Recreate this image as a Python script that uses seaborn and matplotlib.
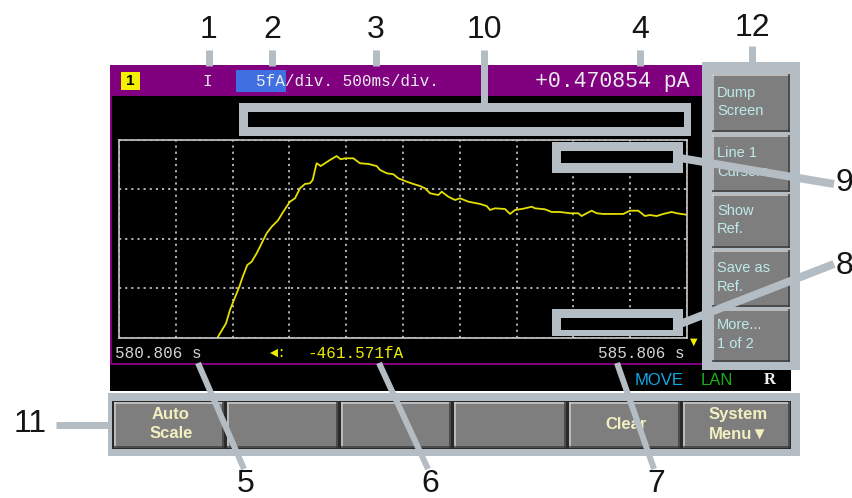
import matplotlib
matplotlib.use('Agg')
import numpy as np
import matplotlib.pyplot as plt
from matplotlib.patches import Rectangle
import seaborn as sns

# trace: time (s) and current (fA, relative to screen centre)
time_s = [581.660, 581.671, 581.748, 581.783, 581.818, 581.865, 581.895, 581.935,
          581.974, 582.018, 582.062, 582.106, 582.150, 582.208, 582.252, 582.311,
          582.355, 582.399, 582.443, 582.487, 582.511, 582.531, 582.546, 582.582,
          582.619, 582.663, 582.722, 582.758, 582.795, 582.869, 582.927, 583.001,
          583.074, 583.104, 583.163, 583.221, 583.265, 583.339, 583.397, 583.456,
          583.500, 583.544, 583.617, 583.647, 583.705, 583.764, 583.808, 583.881,
          583.984, 584.043, 584.072, 584.116, 584.204, 584.248, 584.292, 584.365,
          584.439, 584.468, 584.556, 584.615, 584.688, 584.776, 584.849, 584.879,
          584.923, 584.967, 585.011, 585.069, 585.245, 585.304, 585.377, 585.436,
          585.480, 585.539, 585.597, 585.671, 585.715, 585.803]
current_fa = [-10.4, -10.0, -8.52, -7.17, -6.16, -4.82, -3.81, -2.63,
              -2.29, -1.44, -0.43, 0.58, 1.24, 1.92, 2.76, 3.77,
              4.11, 5.12, 5.56, 5.63, 5.96, 6.97, 7.65, 7.37,
              7.65, 7.98, 8.38, 8.05, 8.15, 8.15, 7.65, 7.58,
              7.37, 6.97, 6.64, 6.54, 6.13, 5.79, 5.56, 5.35,
              5.12, 4.62, 4.44, 4.78, 4.27, 3.94, 4.11, 3.77,
              3.54, 3.33, 2.93, 3.10, 3.03, 2.53, 2.93, 3.06,
              3.26, 3.10, 3.00, 2.73, 2.73, 2.60, 2.60, 2.32,
              2.60, 2.86, 2.60, 2.53, 2.53, 2.86, 2.86, 2.32,
              2.42, 2.32, 2.53, 2.73, 2.60, 2.45]

t_start, t_end = 580.806, 585.806   # 500 ms/div, 10 div
curr_range = 10                      # 5 fA/div, 4 div
header_text = '5fA/div. 500ms/div.'
reading = '+0.470854 pA'
cursor_reading = '-461.571fA'
side_keys = ['Dump\nScreen', 'Line 1\nCursors', 'Show\nRef.', 'Save as\nRef.', 'More...\n1 of 2']
bottom_keys = ['Auto\nScale', '', '', '', 'Clear', 'System\nMenu\u25bc']
status_items = [('MOVE', '#10a8e8'), ('LAN', '#18b018'), ('R', '#f0f0f0')]

W, H = 853, 498
GREY = '#b4bcc4'
PURPLE = '#800080'
MONO = ['Liberation Mono', 'DejaVu Sans Mono']
NARROW = ['Liberation Sans Narrow', 'Liberation Sans', 'DejaVu Sans']
LABEL = ['Liberation Sans', 'DejaVu Sans']


def box(ax, x0, y0, x1, y1, color, z=1):
    ax.add_patch(Rectangle((x0, y0), x1 - x0, y1 - y0, facecolor=color,
                           edgecolor='none', zorder=z))


def seg(ax, x0, y0, x1, y1, color, px, z=3):
    ax.plot([x0, x1], [y0, y1], color=color, lw=px * 0.72,
            solid_capstyle='butt', zorder=z)


def key(ax, x0, y0, x1, y1):
    box(ax, x0, y0, x1, y1, '#7e7e7e', z=2)
    seg(ax, x0, y0 + 0.7, x1, y0 + 0.7, '#cfcfcf', 1.5)
    seg(ax, x0 + 0.7, y0, x0 + 0.7, y1, '#cfcfcf', 1.5)
    seg(ax, x1 - 0.7, y0, x1 - 0.7, y1, '#3c3c3c', 1.5)
    seg(ax, x0, y1 - 0.7, x1, y1 - 0.7, '#3c3c3c', 1.5)


fig = plt.figure(figsize=(W / 100, H / 100), dpi=100)
fig.patch.set_facecolor('white')
bg = fig.add_axes([0, 0, 1, 1], zorder=0)
fg = fig.add_axes([0, 0, 1, 1], zorder=2)
for a in (bg, fg):
    a.set_xlim(0, W)
    a.set_ylim(H, 0)
    a.axis('off')

# screen body
box(bg, 110, 65, 702, 365, PURPLE)
box(bg, 112, 96, 702, 363, 'black')
box(bg, 110, 365, 791, 391, 'black')

# header bar
box(bg, 121, 72, 140, 90, '#f4f000', z=2)
bg.text(130.5, 81, '1', color='black', fontsize=11, fontweight='bold',
        ha='center', va='center', family=LABEL, zorder=3)
bg.text(207, 81, 'I', color='#e8e8e8', fontsize=11.5, ha='center', va='center',
        family=MONO, zorder=3)
box(bg, 236, 70, 286, 92, '#3f6fe0', z=2)
bg.text(256, 81, header_text, color='#ececec', fontsize=11.5, ha='left',
        va='center', family=MONO, zorder=3)
bg.text(690, 81, reading, color='#ececec', fontsize=15.5, ha='right',
        va='center', family=MONO, zorder=3)

# readings under the graph
bg.text(115, 353, f'{t_start:.3f} s', color='#d4d4d4', fontsize=11.5,
        ha='left', va='center', family=MONO, zorder=3)
bg.text(270, 353, '\u25c4:', color='#ecec00', fontsize=10, ha='left',
        va='center', family=MONO, zorder=3)
bg.text(307, 353, cursor_reading, color='#ecec00', fontsize=11.5, ha='left',
        va='center', family=MONO, zorder=3)
bg.text(685, 353, f'{t_end:.3f} s', color='#d4d4d4', fontsize=11.5,
        ha='right', va='center', family=MONO, zorder=3)
bg.text(694, 342, '\u25bc', color='#f0f000', fontsize=7, ha='center',
        va='center', family=['DejaVu Sans'], zorder=3)

# status line
for (txt, col), x in zip(status_items, [635, 701, 764]):
    bg.text(x, 380, txt, color=col, fontsize=12,
            fontweight='bold' if txt == 'R' else 'normal',
            family=['Liberation Serif'] if txt == 'R' else NARROW,
            ha='left', va='center', zorder=3)

# side softkeys
box(bg, 702, 62, 800, 370, GREY)
side_rows = [(74, 132), (135, 192), (194, 248), (250, 307), (309, 362)]
for txt, (y0, y1) in zip(side_keys, side_rows):
    key(bg, 712, y0, 790, y1)
    bg.text(717, (y0 + y1) / 2 - 1, txt, color='#bfeaea', fontsize=10.5,
            ha='left', va='center', linespacing=1.45, family=LABEL, zorder=4)

# bottom softkeys
box(bg, 108, 393, 800, 456, GREY)
box(bg, 112, 401, 791, 449, '#2a2a2a')
bottom_cols = [(114, 224), (227, 338), (341, 451), (454, 566), (569, 680), (683, 790)]
for txt, (x0, x1) in zip(bottom_keys, bottom_cols):
    key(bg, x0, 402, x1, 448)
    if txt:
        bg.text((x0 + x1) / 2 + 2, 424, txt, color='#f2f0c0', fontsize=12,
                fontweight='bold', ha='center', va='center', linespacing=1.4,
                family=NARROW, zorder=4)

# graph
ax = fig.add_axes([119 / W, 1 - 338 / H, 568 / W, 198 / H], zorder=1)
ax.set_facecolor('black')
sns.lineplot(x=time_s, y=current_fa, color='#e4e000', linewidth=1.3,
             estimator=None, sort=False, ax=ax)
ax.set_xlim(t_start, t_end)
ax.set_ylim(-curr_range, curr_range)
ax.set_xticks(np.linspace(t_start, t_end, 11))
ax.set_yticks(np.linspace(-curr_range, curr_range, 5))
ax.tick_params(length=0, labelbottom=False, labelleft=False)
ax.grid(True, color='#bdbdbd', linestyle=(0, (1.2, 2.2)), linewidth=1.3)
ax.set_xlabel('')
ax.set_ylabel('')
for sp in ax.spines.values():
    sp.set_color('#c8c8c8')
    sp.set_linewidth(1.2)

# callouts
for lab, x in [('1', 209), ('2', 272), ('3', 376), ('10', 484), ('4', 640)]:
    fg.text(x, 30, lab, fontsize=23, ha='center', va='center',
            color='#151515', family=LABEL)
    seg(fg, x, 50, x, 103 if lab == '10' else 66, GREY, 7)
fg.text(752, 28, '12', fontsize=23, ha='center', va='center',
        color='#151515', family=LABEL)
seg(fg, 752, 46, 752, 63, GREY, 7)

# boxes 10, 9, 8
for (ox0, oy0, ox1, oy1), (ix0, iy0, ix1, iy1) in [
        ((239, 103, 691, 136), (248, 112, 684, 127)),
        ((552, 142, 683, 173), (561, 151, 673, 163)),
        ((552, 309, 683, 336), (561, 318, 673, 330))]:
    box(fg, ox0, oy0, ox1, oy1, GREY, z=2)
    box(fg, ix0, iy0, ix1, iy1, 'black', z=2)

seg(fg, 680, 158, 834, 184, GREY, 8)
seg(fg, 680, 324, 834, 264, GREY, 8)
fg.text(836, 183, '9', fontsize=23, ha='left', va='center', color='#151515',
        family=LABEL)
fg.text(836, 266, '8', fontsize=23, ha='left', va='center', color='#151515',
        family=LABEL)

seg(fg, 56, 425, 109, 425, GREY, 7)
fg.text(30, 424, '11', fontsize=23, ha='center', va='center', color='#151515',
        family=LABEL)

for lab, (x0, x1) in [('5', (198, 244)), ('6', (379, 428)), ('7', (617, 654))]:
    seg(fg, x0, 363, x1, 469, GREY, 6)
    fg.text(x1 + 2, 484, lab, fontsize=23, ha='center', va='center',
            color='#151515', family=LABEL)

fig.savefig('out.png', dpi=100, facecolor='white')
